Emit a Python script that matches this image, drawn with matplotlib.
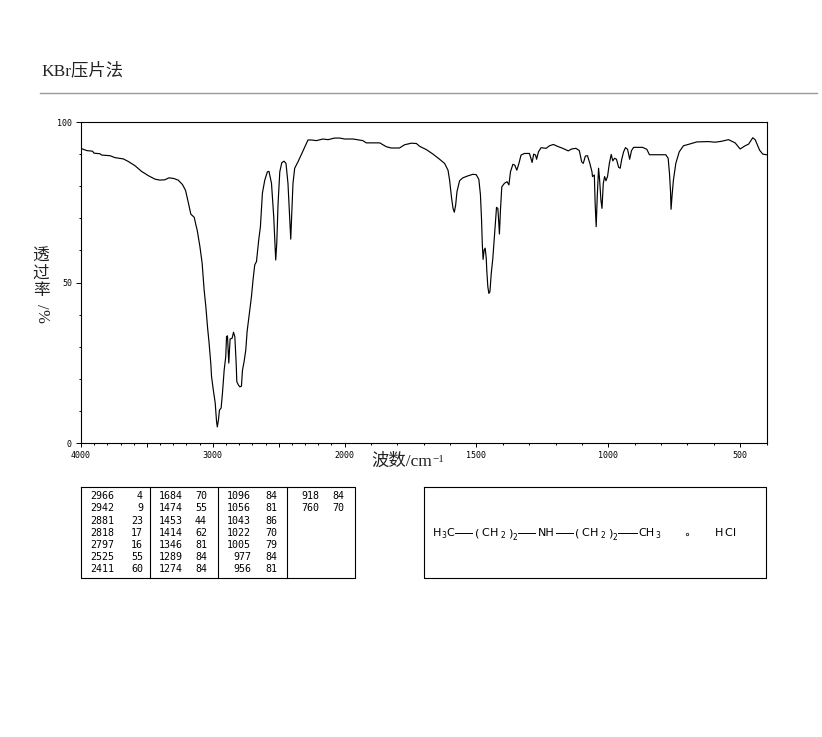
import numpy as np
import matplotlib
matplotlib.use("Agg")
import matplotlib.pyplot as plt

# spectrum
wavenumber = [3995, 3957, 3912, 3902, 3856, 3843, 3780, 3742, 3679, 3641, 3591, 3540, 3490, 3439, 3402, 3364,
              3333, 3296, 3263, 3230, 3207, 3187, 3167, 3141, 3129, 3119, 3098, 3081, 3066, 3053, 3040, 3028,
              3015, 3010, 2997, 2982, 2972, 2966, 2957, 2950, 2937, 2927, 2914, 2902, 2896, 2889, 2879, 2869, 2854, 2843, 2833,
              2823, 2818, 2805, 2795, 2783, 2775, 2763, 2750, 2740, 2720, 2707, 2695, 2682, 2669, 2652, 2639,
              2624, 2606, 2586, 2574, 2555, 2538, 2530, 2523, 2515, 2505, 2492, 2477, 2460, 2445, 2430, 2419,
              2409, 2402, 2392, 2379, 2354, 2278, 2253, 2215, 2164, 2126, 2076, 2038, 2000, 1968, 1931, 1918,
              1867, 1842, 1823, 1792, 1773, 1747, 1728, 1715, 1690, 1665, 1640, 1621, 1608, 1602, 1595, 1589,
              1584, 1579, 1574, 1564, 1552, 1533, 1514, 1501, 1491, 1485, 1481, 1478, 1475, 1471, 1467, 1463,
              1461, 1457, 1453, 1449, 1444, 1438, 1432, 1428, 1424, 1419, 1416, 1413, 1409, 1404, 1394, 1384,
              1377, 1371, 1362, 1355, 1347, 1339, 1331, 1318, 1299, 1289, 1283, 1276, 1272, 1265, 1255, 1236,
              1223, 1208, 1192, 1173, 1152, 1139, 1123, 1110, 1101, 1095, 1087, 1079, 1070, 1062, 1060, 1053,
              1050, 1046, 1042, 1037, 1033, 1028, 1024, 1019, 1014, 1009, 1003, 996, 989, 983, 976, 969,
              961, 955, 949, 942, 935, 927, 919, 912, 904, 870, 854, 844, 807, 782, 773, 768,
              764, 762, 758, 753, 744, 731, 715, 693, 664, 620, 595, 570, 544, 519, 500, 481,
              468, 452, 443, 426, 414, 400]
transmittance = [91.7, 91.1, 90.9, 90.3, 90.1, 89.7, 89.5, 88.9, 88.5, 87.7, 86.4, 84.6, 83.3, 82.2, 81.9, 82.0,
                 82.6, 82.4, 81.9, 80.5, 78.7, 75.1, 71.3, 70.3, 68.0, 66.4, 61.2, 56.0, 47.7, 42.5, 36.0, 31.0,
                 24.5, 20.8, 16.7, 12.5, 6.8, 5.0, 7.3, 10.2, 10.9, 15.5, 22.7, 26.9, 33.1, 33.4, 24.9, 32.4, 32.6, 34.5, 33.1,
                 24.9, 19.1, 18.0, 17.5, 17.7, 22.7, 25.3, 29.0, 34.7, 41.4, 45.6, 50.8, 55.5, 56.5, 63.2, 67.4,
                 77.8, 81.9, 84.5, 84.6, 80.9, 70.5, 63.2, 57.0, 62.2, 74.7, 84.5, 87.3, 87.8, 87.1, 80.9, 71.6,
                 63.5, 70.5, 80.9, 85.6, 87.6, 94.4, 94.4, 94.2, 94.7, 94.5, 95.0, 95.0, 94.7, 94.7, 94.2, 93.5,
                 93.5, 92.3, 91.9, 91.9, 92.9, 93.4, 93.3, 92.4, 91.4, 90.0, 88.4, 87.1, 85.0, 81.9, 76.7, 73.1,
                 71.9, 74.1, 78.3, 81.7, 82.6, 83.2, 83.7, 83.6, 82.1, 77.3, 70.0, 62.2, 57.2, 60.1, 60.7, 57.6,
                 53.9, 48.7, 46.6, 47.1, 52.8, 57.5, 64.3, 68.9, 73.4, 73.1, 69.5, 65.1, 72.6, 79.8, 80.9, 81.4,
                 80.4, 84.5, 86.8, 86.6, 85.0, 87.1, 89.7, 90.2, 90.2, 87.4, 90.0, 89.7, 88.4, 90.7, 92.0, 91.8,
                 92.6, 93.0, 92.4, 91.8, 91.0, 91.6, 91.8, 91.1, 87.6, 87.1, 89.4, 89.5, 87.1, 84.5, 83.0, 83.5,
                 74.8, 67.4, 76.7, 85.6, 82.0, 75.7, 73.1, 80.9, 83.0, 81.7, 83.0, 87.1, 89.9, 87.9, 88.7, 88.4,
                 85.9, 85.6, 88.4, 90.7, 92.0, 91.5, 88.4, 91.1, 92.1, 92.1, 91.5, 89.8, 89.8, 89.8, 88.7, 84.0,
                 78.3, 72.8, 77.3, 81.9, 87.1, 90.7, 92.6, 93.1, 93.8, 93.9, 93.7, 94.0, 94.5, 93.5, 91.6, 92.6,
                 93.1, 95.1, 94.5, 91.2, 90.0, 89.8]

# peak table, one list per column
col1_wn = ["2966", "2942", "2881", "2818", "2797", "2525", "2411"]
col1_t = ["4", "9", "23", "17", "16", "55", "60"]
col2_wn = ["1684", "1474", "1453", "1414", "1346", "1289", "1274"]
col2_t = ["70", "55", "44", "62", "81", "84", "84"]
col3_wn = ["1096", "1056", "1043", "1022", "1005", "977", "956"]
col3_t = ["84", "81", "86", "70", "79", "84", "81"]
col4_wn = ["918", "760"]
col4_t = ["84", "70"]

x_major = [4000, 3500, 3000, 2500, 2000, 1500, 1000, 500]
x_labels = ["4000", "", "3000", "", "2000", "1500", "1000", "500"]
x_minor = [w for w in range(400, 4000, 100) if w not in x_major]
y_major = [0, 50, 100]
y_minor = [10, 20, 30, 40, 60, 70, 80, 90]

W, H = 822, 737
serif = ["Liberation Serif", "Noto Sans CJK SC"]
mono = "DejaVu Sans Mono"

fig = plt.figure(figsize=(W / 100, H / 100), dpi=100)

# page axes in pixels, for the rule, the boxes and the loose text
page = fig.add_axes([0, 0, 1, 1])
page.set_xlim(0, W)
page.set_ylim(H, 0)
page.axis("off")

ax = fig.add_axes([81 / W, 1 - 443 / H, 685.5 / W, 321 / H])
ax.patch.set_alpha(0)


# the wavenumber axis is twice as wide below 2000
def forward(x):
    return np.interp(x, [400, 2000, 4000], [0, 1600, 2600])


def inverse(x):
    return np.interp(x, [0, 1600, 2600], [400, 2000, 4000])


ax.set_xscale("function", functions=(forward, inverse))
ax.plot(wavenumber, transmittance, color="black", lw=0.85)
ax.set_xlim(4000, 400)
ax.set_ylim(0, 100)

ax.set_xticks(x_major, x_labels, fontfamily=mono, fontsize=6)
ax.set_xticks(x_minor, minor=True)
ax.set_yticks(y_major, ["0", "50", "100"], fontfamily=mono, fontsize=6)
ax.set_yticks(y_minor, minor=True)
ax.tick_params(axis="x", which="major", length=3, width=0.7, pad=2.5)
ax.tick_params(axis="x", which="minor", length=1.2, width=0.7)
ax.tick_params(axis="y", which="major", length=3.5, width=0.7, pad=3)
ax.tick_params(axis="y", which="minor", length=1.2, width=0.7)
for s in ax.spines.values():
    s.set_linewidth(0.8)

# title and rule
page.text(41, 71, "KBr压片法", family=serif, fontsize=12.5, va="center", ha="left", color="#222222")
page.plot([40, 817], [93, 93], color="#999999", lw=1)

# stacked y label
for ch, yy, rot in [("透", 257, 0), ("过", 274, 0), ("率", 291, 0), ("/", 306, -90), ("%", 316, -90)]:
    page.text(41, yy, ch, family=serif, fontsize=12, ha="center", va="center", rotation=rot, color="#222222")

# x label
page.text(371, 462, "波数/cm", family=serif, fontsize=12.5, ha="left", va="center", color="#222222")
page.text(432, 459, "−1", family=serif, fontsize=8, ha="left", va="center", color="#222222")

# peak table
page.plot([81, 355, 355, 81, 81], [487, 487, 578, 578, 487], color="black", lw=0.8)
for sep in [150, 218, 287]:
    page.plot([sep, sep], [487, 578], color="black", lw=0.8)
rows_y = [496, 508, 520.5, 532.5, 544.5, 557, 569]
table = [(col1_wn, col1_t, 114.5, 143), (col2_wn, col2_t, 182.5, 207),
         (col3_wn, col3_t, 251, 277), (col4_wn, col4_t, 319.5, 344.5)]
for wn_col, t_col, x1, x2 in table:
    for a, b, yy in zip(wn_col, t_col, rows_y):
        page.text(x1, yy, a, family=mono, fontsize=7.2, ha="right", va="center")
        page.text(x2, yy, b, family=mono, fontsize=7.2, ha="right", va="center")

# structure box
page.plot([424, 766, 766, 424, 424], [487, 487, 578, 578, 487], color="black", lw=0.8)
bonds = [(455, 472), (518, 535), (556, 573), (618, 637)]
for x0, x1 in bonds:
    page.plot([x0, x1], [533, 533], color="black", lw=0.7)
pieces = [(433, 533.5, "H", 8), (441, 536, "3", 5.5), (446, 533.5, "C", 8),
          (475, 533.5, "(", 8), (481, 533.5, "C", 8), (490, 533.5, "H", 8), (500, 536, "2", 5.5),
          (508, 533.5, ")", 8), (512, 537, "2", 5.5),
          (538, 533.5, "NH", 8),
          (575, 533.5, "(", 8), (581, 533.5, "C", 8), (590, 533.5, "H", 8), (600, 536, "2", 5.5),
          (608, 533.5, ")", 8), (612, 537, "2", 5.5),
          (638, 533.5, "CH", 8), (655, 536, "3", 5.5),
          (715, 533.5, "H", 8), (724, 533.5, "C", 8), (733, 533.5, "l", 8)]
for xx, yy, s, size in pieces:
    page.text(xx, yy, s, fontsize=size, ha="left", va="center", family="DejaVu Sans")
page.plot([687], [534], marker="o", ms=1.8, mfc="white", mec="black", mew=0.5)

fig.savefig("out.png", dpi=100, facecolor="white")
